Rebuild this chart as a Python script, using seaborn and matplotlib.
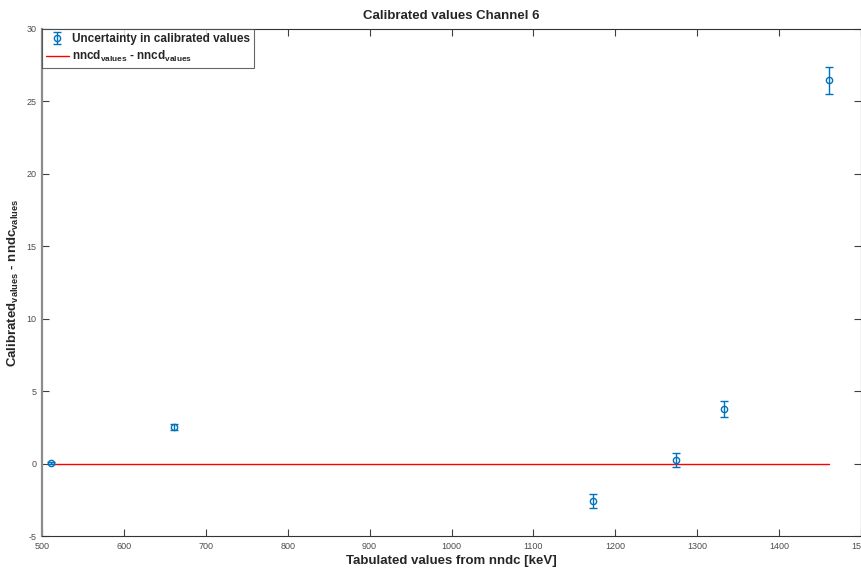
import numpy as np
import pandas as pd
import matplotlib
matplotlib.use("Agg")
import matplotlib.pyplot as plt
import seaborn as sns

# Data
energies = [511.0, 661.7, 1173.2, 1274.5, 1332.5, 1460.8]
differences = [0.05, 2.52, -2.58, 0.25, 3.77, 26.45]
uncertainties = [0.08, 0.2, 0.48, 0.5, 0.55, 0.93]
reference_zero = [0.0, 0.0, 0.0, 0.0, 0.0, 0.0]

title = "Calibrated values Channel 6"
xlabel = "Tabulated values from nndc [keV]"
ylabel = r"Calibrated$_{\mathbf{values}}$ - nndc$_{\mathbf{values}}$"
legend_err = "Uncertainty in calibrated values"
legend_line = r"nncd$_{\mathbf{values}}$ - nncd$_{\mathbf{values}}$"
xticks = [500, 600, 700, 800, 900, 1000, 1100, 1200, 1300, 1400, 1500]
xticklabels = ["500", "600", "700", "800", "900", "1000", "1100", "1200", "1300", "1400", "15"]
yticks = [-5, 0, 5, 10, 15, 20, 25, 30]
yticklabels = ["-5", "0", "5", "10", "15", "20", "25", "30"]

sns.set_theme(style="white")
plt.rcParams["font.family"] = ["Liberation Sans", "DejaVu Sans"]
plt.rcParams["mathtext.fontset"] = "custom"
plt.rcParams["mathtext.rm"] = "Liberation Sans"
plt.rcParams["mathtext.bf"] = "Liberation Sans:bold"

df = pd.DataFrame({"E": energies, "d": differences, "u": uncertainties, "z": reference_zero})

fig = plt.figure(figsize=(8.62, 5.69), dpi=100)
ax = fig.add_axes([42 / 862, 33 / 569, 819 / 862, 507 / 569])

blue = "#0072BD"
sns.lineplot(data=df, x="E", y="z", color="red", linewidth=1.0, ax=ax,
             label=legend_line, legend=False)
ax.errorbar(df["E"], df["d"], yerr=df["u"], fmt="o", color=blue,
            markerfacecolor="none", markeredgecolor=blue, markersize=4.5,
            markeredgewidth=1.0, elinewidth=1.0, capsize=3, capthick=1.0,
            label=legend_err, zorder=3)

ax.set_xlim(500, 1500)
ax.set_ylim(-5, 30)
ax.set_xticks(xticks)
ax.set_yticks(yticks)
ax.set_xticklabels(xticklabels)
ax.set_yticklabels(yticklabels)
ax.get_xticklabels()[-1].set_horizontalalignment("right")
ax.tick_params(direction="in", length=5, width=0.8, labelsize=6.5,
               colors="0.25", top=True, right=True, bottom=True, left=True,
               labelcolor="0.3", pad=4)
for s in ax.spines.values():
    s.set_color("0.2")
    s.set_linewidth(0.8)
ax.spines["left"].set_color("0.55")
ax.spines["left"].set_linewidth(1.6)

ax.set_title(title, fontsize=9.5, fontweight="bold", pad=7)
ax.set_xlabel(xlabel, fontsize=9.5, fontweight="bold", labelpad=3)
ax.set_ylabel(ylabel, fontsize=9.5, fontweight="bold", labelpad=4)

handles, labels = ax.get_legend_handles_labels()
order = [labels.index(legend_err), labels.index(legend_line)]
leg = ax.legend([handles[i] for i in order], [labels[i] for i in order],
                loc="upper left", bbox_to_anchor=(0, 1), borderaxespad=0,
                frameon=True, fancybox=False, edgecolor="0.25",
                prop={"weight": "bold", "size": 8.5}, handlelength=1.9,
                borderpad=0.35, labelspacing=0.3, handletextpad=0.3)
leg.get_frame().set_linewidth(0.8)

fig.savefig("out.png", dpi=100)
